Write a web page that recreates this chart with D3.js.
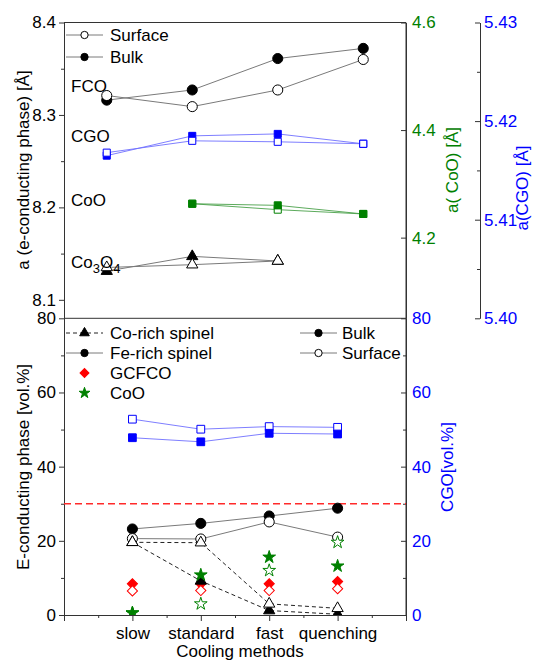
<!DOCTYPE html>
<html><head><meta charset="utf-8">
<script src="https://cdn.jsdelivr.net/npm/d3@7"></script>
<style>
body{margin:0;background:#fff}
svg{font-family:"Liberation Sans",Arial,sans-serif}
</style></head><body>
<svg id="c" width="534" height="660"></svg>
<script>
const categories = ["slow","standard","fast","quenching"];
// top panel: lattice parameters [Å]
const fcoSurface = [8.321, 8.309, 8.327, 8.360];
const fcoBulk = [8.316, 8.327, 8.361, 8.372];
const cgoSurfaceA = [5.4168, 5.4180, 5.4179, 5.4177];
const cgoBulkA = [5.4165, 5.4185, 5.4187, 5.4177];
const cooSurfaceA = [null, 4.263, 4.252, 4.244];
const cooBulkA = [null, 4.263, 4.260, 4.244];
const co3o4Surface = [8.135, 8.138, 8.142, null];
const co3o4Bulk = [8.131, 8.147, 8.142, null];
// bottom panel: phase fractions [vol.%]
const feSpinelBulk = [23.2, 24.7, 26.7, 28.8];
const feSpinelSurface = [20.6, 20.5, 25.1, 21.0];
const coSpinelBulk = [19.6, 9.2, 1.2, 0.2];
const coSpinelSurface = [19.6, 19.5, 3.0, 1.8];
const gcfcoBulk = [8.4, 8.4, 8.4, 9.0];
const gcfcoSurface = [6.5, 6.6, 6.6, 7.1];
const cooBulkVol = [0.6, 10.8, 15.6, 13.2];
const cooSurfaceVol = [0.5, 3.0, 12.0, 19.6];
const cgoBulkVol = [47.8, 46.7, 49.0, 48.8];
const cgoSurfaceVol = [52.8, 50.1, 50.8, 50.6];
const threshold = [30];
// tick values
const topLeftTicks = [8.1, 8.2, 8.3, 8.4];
const topLeftMinor = [8.15, 8.25, 8.35];
const cooTicks = [4.2, 4.4, 4.6];
const cgoTicks = [5.40, 5.41, 5.42, 5.43];
const cgoMinor = [5.405, 5.415, 5.425];
const volTicks = [0, 20, 40, 60, 80];
const volMinor = [10, 30, 50, 70];

const L = 64, R = 406, T = 22.5, M = 318.3, B = 615;
const FS = 17;
const BLUE = "#0000ff", GREEN = "#008000", RED = "#ff0000", AX = "#333";

const svg = d3.select("#c");
const defs = svg.append("defs");
defs.append("clipPath").attr("id","clipTop").append("rect").attr("x",L).attr("y",T).attr("width",R-L).attr("height",M-T);
defs.append("clipPath").attr("id","clipBot").append("rect").attr("x",L).attr("y",M).attr("width",R-L).attr("height",B-M);

const xTop = d3.scaleLinear([0.5, 4.5], [L, R]);
const xBot = d3.scaleLinear([0, 5], [L, R]);
const yTop = d3.scaleLinear([8.08, 8.4], [M, T]);
const yCoO = d3.scaleLinear([4.05, 4.6], [M, T]);
const yCGO = d3.scaleLinear([5.40, 5.43], [M, T]);
const yVol = d3.scaleLinear([0, 80], [B, M]);

function styleAxis(g, color) {
  g.selectAll("path.domain").attr("stroke", AX).attr("stroke-width", 1);
  g.selectAll(".tick line").attr("stroke", AX);
  g.selectAll("text").attr("font-size", FS).attr("fill", color || "#000").attr("font-family", '"Liberation Sans",Arial,sans-serif');
}
function addAxis(axis, tx, ty, color) {
  const g = svg.append("g").attr("transform", `translate(${tx},${ty})`).call(axis);
  styleAxis(g, color);
  return g;
}
function minorAxis(axis, tx, ty) {
  const g = svg.append("g").attr("transform", `translate(${tx},${ty})`).call(axis);
  g.select("path.domain").remove();
  g.selectAll("text").remove();
  g.selectAll(".tick line").attr("stroke", AX);
}

// frame
svg.append("line").attr("x1",L).attr("x2",R).attr("y1",T).attr("y2",T).attr("stroke",AX);
svg.append("line").attr("x1",L).attr("x2",R).attr("y1",M).attr("y2",M).attr("stroke",AX);
svg.append("line").attr("x1",R).attr("x2",R).attr("y1",T).attr("y2",B).attr("stroke",AX);

// top-left axis
addAxis(d3.axisLeft(yTop).tickValues(topLeftTicks).tickFormat(d3.format(".1f")).tickSize(5).tickPadding(3).tickSizeOuter(0), L, 0);
minorAxis(d3.axisLeft(yTop).tickValues(topLeftMinor).tickSize(3), L, 0);
// CoO axis (green)
addAxis(d3.axisRight(yCoO).tickValues(cooTicks).tickFormat(d3.format(".1f")).tickSize(-5).tickPadding(6).tickSizeOuter(0), R, 0, GREEN);
// CGO lattice axis (blue)
addAxis(d3.axisRight(yCGO).tickValues(cgoTicks).tickFormat(d3.format(".2f")).tickSize(-5).tickPadding(4).tickSizeOuter(0), 480, 0, BLUE);
minorAxis(d3.axisRight(yCGO).tickValues(cgoMinor).tickSize(-3), 480, 0);
// bottom-left axis
addAxis(d3.axisLeft(yVol).tickValues(volTicks).tickFormat(d3.format("d")).tickSize(5).tickPadding(3).tickSizeOuter(0), L, 0);
minorAxis(d3.axisLeft(yVol).tickValues(volMinor).tickSize(3), L, 0);
// bottom-right axis (blue)
addAxis(d3.axisRight(yVol).tickValues(volTicks).tickFormat(d3.format("d")).tickSize(-5).tickPadding(6).tickSizeOuter(0), R, 0, BLUE);
minorAxis(d3.axisRight(yVol).tickValues(volMinor).tickSize(-3), R, 0);
// x axis
addAxis(d3.axisBottom(xBot).tickValues([0,1,2,3,4,5]).tickFormat(i => categories[i-1] || "").tickSize(6).tickPadding(6).tickSizeOuter(0), 0, B);
minorAxis(d3.axisBottom(xBot).tickValues([0.5,1.5,2.5,3.5,4.5]).tickSize(3), 0, B);

// axis titles
function vtitle(text, x, y, color) {
  svg.append("text").attr("transform", `translate(${x},${y}) rotate(-90)`).attr("text-anchor","middle")
    .attr("font-size", FS).attr("fill", color).text(text);
}
vtitle("a (e-conducting phase) [Å]", 29, 170, "#000");
vtitle("E-conducting phase [vol.%]", 29, 467, "#000");
vtitle("a( CoO) [Å]", 458, 170, GREEN);
vtitle("a(CGO) [Å]", 528, 188, BLUE);
vtitle("CGO[vol.%]", 453, 467, BLUE);
svg.append("text").attr("x", 240).attr("y", 657).attr("text-anchor","middle").attr("font-size", FS).text("Cooling methods");

// symbols
const sym = {
  circle: d3.symbol(d3.symbolCircle, 80)(),
  square: d3.symbol(d3.symbolSquare, 60)(),
  triangle: d3.symbol(d3.symbolTriangle, 55)(),
  diamond: d3.symbol(d3.symbolSquare, 52)(),
  star: d3.symbol(d3.symbolStar, 50)()
};
function series(g, x, y, vals, o) {
  const pts = vals.map((v, i) => ({i: i + 1, v})).filter(d => d.v != null);
  if (o.line) {
    g.append("path").datum(pts)
      .attr("d", d3.line().x(d => x(d.i)).y(d => y(d.v)))
      .attr("fill","none").attr("stroke", o.line).attr("stroke-width", o.lw || 1)
      .attr("stroke-dasharray", o.dash || null);
  }
  return pts;
}
function markers(g, x, y, vals, o) {
  const pts = vals.map((v, i) => ({i: i + 1, v})).filter(d => d.v != null);
  g.selectAll(null).data(pts).join("path")
    .attr("d", o.path)
    .attr("transform", d => `translate(${x(d.i)},${y(d.v)})${o.rot ? " rotate(45)" : ""}`)
    .attr("fill", o.fill).attr("stroke", o.stroke).attr("stroke-width", o.sw || 1);
}

// ---------- top panel ----------
const gT = svg.append("g").attr("clip-path","url(#clipTop)");
const GRAY = "#7a7a7a", LBLUE = "#6f6fff", LGREEN = "#4aa04a";
series(gT, xTop, yTop, fcoBulk, {line: GRAY});
series(gT, xTop, yTop, fcoSurface, {line: GRAY});
series(gT, xTop, yCGO, cgoBulkA, {line: LBLUE, lw: 0.9});
series(gT, xTop, yCGO, cgoSurfaceA, {line: LBLUE, lw: 0.9});
series(gT, xTop, yCoO, cooBulkA, {line: LGREEN, lw: 0.9});
series(gT, xTop, yCoO, cooSurfaceA, {line: LGREEN, lw: 0.9});
series(gT, xTop, yTop, co3o4Bulk, {line: GRAY});
series(gT, xTop, yTop, co3o4Surface, {line: GRAY});
markers(gT, xTop, yTop, fcoBulk, {path: sym.circle, fill: "#000", stroke: "#000"});
markers(gT, xTop, yTop, fcoSurface, {path: sym.circle, fill: "#fff", stroke: "#000"});
markers(gT, xTop, yCGO, cgoBulkA, {path: d3.symbol(d3.symbolSquare, 50)(), fill: BLUE, stroke: BLUE});
markers(gT, xTop, yCGO, cgoSurfaceA, {path: d3.symbol(d3.symbolSquare, 50)(), fill: "#fff", stroke: BLUE});
markers(gT, xTop, yCoO, cooSurfaceA, {path: d3.symbol(d3.symbolSquare, 50)(), fill: "#fff", stroke: GREEN});
markers(gT, xTop, yCoO, cooBulkA, {path: d3.symbol(d3.symbolSquare, 50)(), fill: GREEN, stroke: GREEN});
markers(gT, xTop, yTop, co3o4Bulk, {path: sym.triangle, fill: "#000", stroke: "#000"});
markers(gT, xTop, yTop, co3o4Surface, {path: sym.triangle, fill: "#fff", stroke: "#000"});

// top labels
function lbl(t, x, y) { return svg.append("text").attr("x", x).attr("y", y).attr("font-size", FS).text(t); }
lbl("FCO", 71, 92);
lbl("CGO", 71, 142);
lbl("CoO", 71, 206);
const co = svg.append("text").attr("x", 71).attr("y", 268).attr("font-size", FS);
co.append("tspan").text("Co");
co.append("tspan").attr("font-size", 13).attr("dy", 5).text("3");
co.append("tspan").attr("dy", -5).text("O");
co.append("tspan").attr("font-size", 13).attr("dy", 5).text("4");

// top legend
function legItem(x1, x2, y, lineStyle, markerFn, text, tx) {
  if (lineStyle) svg.append("line").attr("x1", x1).attr("x2", x2).attr("y1", y).attr("y2", y)
      .attr("stroke", lineStyle.c).attr("stroke-dasharray", lineStyle.d || null);
  markerFn((x1 + x2) / 2, y);
  svg.append("text").attr("x", tx).attr("y", y + 6).attr("font-size", FS).text(text);
}
const smallCircle = d3.symbol(d3.symbolCircle, 42)();
function mk(path, fill, stroke, rot) {
  return (x, y) => svg.append("path").attr("d", path).attr("transform", `translate(${x},${y})${rot ? " rotate(45)" : ""}`)
    .attr("fill", fill).attr("stroke", stroke);
}
legItem(66, 103, 35, {c: GRAY}, mk(smallCircle, "#fff", "#000"), "Surface", 110);
legItem(66, 103, 57, {c: GRAY}, mk(smallCircle, "#000", "#000"), "Bulk", 110);

// ---------- bottom panel ----------
const gB = svg.append("g").attr("clip-path","url(#clipBot)");
gB.selectAll(null).data(threshold).join("line")
  .attr("x1", L).attr("x2", R).attr("y1", d => yVol(d)).attr("y2", d => yVol(d))
  .attr("stroke", "#ff2a2a").attr("stroke-width", 1.3).attr("stroke-dasharray", "7,4");
series(gB, xBot, yVol, cgoSurfaceVol, {line: LBLUE, lw: 0.9});
series(gB, xBot, yVol, cgoBulkVol, {line: LBLUE, lw: 0.9});
series(gB, xBot, yVol, feSpinelBulk, {line: GRAY});
series(gB, xBot, yVol, feSpinelSurface, {line: GRAY});
series(gB, xBot, yVol, coSpinelBulk, {line: "#222", dash: "4,3"});
series(gB, xBot, yVol, coSpinelSurface, {line: "#222", dash: "4,3"});
markers(gB, xBot, yVol, cgoSurfaceVol, {path: sym.square, fill: "#fff", stroke: BLUE});
markers(gB, xBot, yVol, cgoBulkVol, {path: sym.square, fill: BLUE, stroke: BLUE});
markers(gB, xBot, yVol, feSpinelBulk, {path: sym.circle, fill: "#000", stroke: "#000"});
markers(gB, xBot, yVol, feSpinelSurface, {path: sym.circle, fill: "#fff", stroke: "#000"});
markers(gB, xBot, yVol, gcfcoBulk, {path: sym.diamond, fill: RED, stroke: RED, rot: true});
markers(gB, xBot, yVol, gcfcoSurface, {path: sym.diamond, fill: "#fff", stroke: RED, rot: true});
markers(gB, xBot, yVol, coSpinelBulk, {path: sym.triangle, fill: "#000", stroke: "#000"});
markers(gB, xBot, yVol, coSpinelSurface, {path: sym.triangle, fill: "#fff", stroke: "#000"});
markers(gB, xBot, yVol, cooSurfaceVol, {path: sym.star, fill: "#fff", stroke: GREEN});
markers(gB, xBot, yVol, cooBulkVol, {path: sym.star, fill: GREEN, stroke: GREEN});

// bottom legends
legItem(66, 103, 333, {c: "#222", d: "4,3"}, mk(d3.symbol(d3.symbolTriangle, 40)(), "#000", "#000"), "Co-rich spinel", 110);
legItem(66, 103, 353, {c: GRAY}, mk(smallCircle, "#000", "#000"), "Fe-rich spinel", 110);
legItem(66, 103, 373, null, mk(d3.symbol(d3.symbolSquare, 40)(), RED, RED, true), "GCFCO", 110);
legItem(66, 103, 393, null, mk(d3.symbol(d3.symbolStar, 36)(), GREEN, GREEN), "CoO", 110);
legItem(300, 337, 333, {c: GRAY}, mk(smallCircle, "#000", "#000"), "Bulk", 342);
legItem(300, 337, 353, {c: GRAY}, mk(smallCircle, "#fff", "#000"), "Surface", 342);
</script>
</body></html>
